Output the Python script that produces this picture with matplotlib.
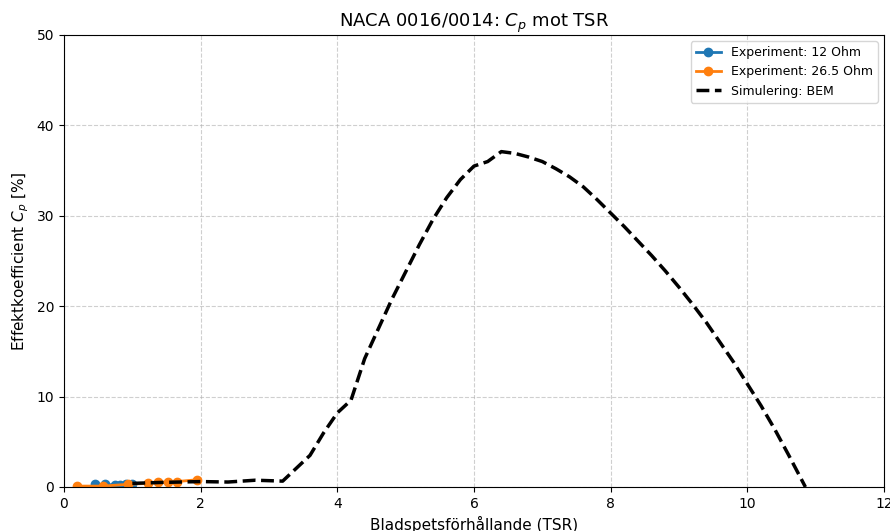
import matplotlib
matplotlib.use("Agg")
import matplotlib.pyplot as plt

# experiment data
tsr_12 = [0.45, 0.6, 0.75, 0.82, 0.9, 1.0]
cp_12 = [0.3, 0.3, 0.2, 0.25, 0.3, 0.35]
tsr_265 = [0.19, 0.57, 0.94, 1.23, 1.38, 1.52, 1.65, 1.95]
cp_265 = [0.1, 0.1, 0.3, 0.4, 0.5, 0.55, 0.6, 0.8]

# BEM simulation
tsr_bem = [1.0, 1.4, 2.0, 2.4, 2.8, 3.2, 3.6, 3.8, 4.0, 4.2, 4.4, 4.6, 4.8, 5.0,
           5.2, 5.4, 5.6, 5.8, 6.0, 6.2, 6.4, 6.6, 6.8, 7.0, 7.2, 7.4, 7.6, 7.8,
           8.0, 8.2, 8.4, 8.6, 8.8, 9.0, 9.2, 9.4, 9.6, 9.8, 10.0, 10.2, 10.4,
           10.6, 10.85]
cp_bem = [0.4, 0.5, 0.6, 0.55, 0.75, 0.65, 3.5, 6.0, 8.2, 9.6, 14.2, 17.5, 20.8,
          23.8, 26.8, 29.6, 32.0, 34.0, 35.5, 36.0, 37.1, 36.9, 36.5, 36.0, 35.2,
          34.3, 33.2, 31.8, 30.3, 28.8, 27.2, 25.6, 23.9, 22.1, 20.2, 18.2, 16.0,
          13.8, 11.4, 9.0, 6.4, 3.6, 0.0]

fig = plt.figure(figsize=(8.9, 5.31), dpi=100)
ax = fig.add_axes([64/890, 1-487/531, 820/890, 452/531])

ax.plot(tsr_12, cp_12, marker='o', lw=2, color='tab:blue', label='Experiment: 12 Ohm')
ax.plot(tsr_265, cp_265, marker='o', lw=2, color='tab:orange', label='Experiment: 26.5 Ohm')
ax.plot(tsr_bem, cp_bem, '--', color='black', linewidth=2.5, label='Simulering: BEM')

ax.set_xlim(0, 12)
ax.set_ylim(0, 50)
ax.grid(True, linestyle='--', alpha=0.6)
ax.set_title('NACA 0016/0014: $C_p$ mot TSR', fontsize=13)
ax.set_xlabel('Bladspetsförhållande (TSR)', fontsize=11)
ax.set_ylabel('Effektkoefficient $C_p$ [%]', fontsize=11)
ax.legend(loc='upper right', fontsize=9)

fig.savefig('out.png', dpi=100)
